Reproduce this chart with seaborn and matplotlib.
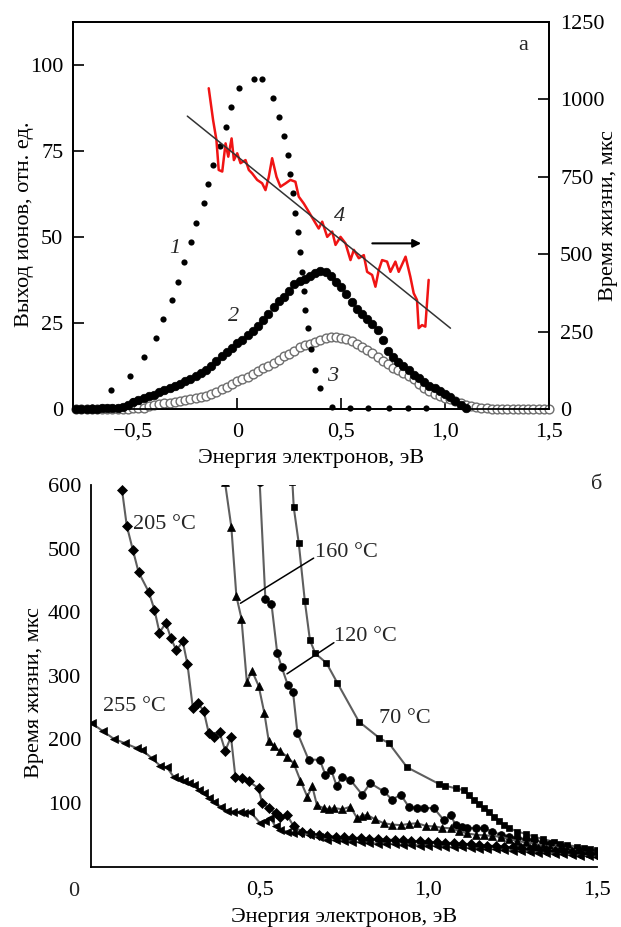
import matplotlib
matplotlib.use("Agg")
import matplotlib.pyplot as plt
import seaborn as sns
import pandas as pd

# ---------------- Panel a data ----------------
c1_x = [-0.697, -0.606, -0.516, -0.449, -0.389, -0.359, -0.316, -0.285, -0.257, -0.224,
        -0.200, -0.160, -0.139, -0.115, -0.083, -0.053, -0.029, 0.011, 0.083, 0.120,
        0.173, 0.203, 0.224, 0.242, 0.256, 0.267, 0.280, 0.291, 0.304, 0.314,
        0.320, 0.328, 0.339, 0.356, 0.373, 0.400, 0.457, 0.545, 0.630, 0.730, 0.820, 0.910]
c1_y = [0.7, 5.5, 9.7, 15.2, 20.5, 26.2, 31.7, 37.0, 42.8, 48.5,
        54.2, 59.8, 65.3, 70.9, 76.5, 82.1, 87.7, 93.2, 95.8, 95.8,
        90.5, 85.0, 79.4, 73.8, 68.2, 62.7, 56.9, 51.5, 45.7, 39.9,
        34.4, 28.8, 23.5, 17.4, 11.3, 6.0, 0.7, 0.2, 0.2, 0.2, 0.2, 0.2]

c2_x = [-0.775, -0.75, -0.725, -0.70, -0.675, -0.65, -0.625, -0.60, -0.575,
        -0.55, -0.525, -0.50, -0.475, -0.45, -0.425, -0.40, -0.375, -0.35, -0.325,
        -0.30, -0.275, -0.25, -0.225, -0.20, -0.175, -0.15, -0.125, -0.10, -0.075,
        -0.05, -0.025, 0.0, 0.025, 0.05, 0.075, 0.10, 0.125, 0.15, 0.175,
        0.20, 0.225, 0.25, 0.275, 0.30, 0.325, 0.35, 0.375, 0.40, 0.425,
        0.45, 0.475, 0.50, 0.525, 0.55, 0.575, 0.60, 0.625, 0.65, 0.675,
        0.70, 0.725, 0.75, 0.775, 0.80, 0.825, 0.85, 0.875, 0.90, 0.925,
        0.95, 0.975, 1.00, 1.025, 1.05, 1.075, 1.10]
c2_y = [0.1, 0.1, 0.1, 0.1, 0.1, 0.2, 0.2, 0.3, 0.4,
        0.5, 1.2, 2.0, 2.6, 3.1, 3.7, 4.2, 4.9, 5.6, 6.1,
        6.7, 7.3, 8.0, 8.8, 9.6, 10.4, 11.4, 12.6, 14.0, 15.3,
        16.5, 17.8, 19.1, 20.2, 21.4, 22.7, 24.1, 25.8, 27.6, 29.6,
        31.3, 32.7, 34.3, 36.2, 37.3, 37.9, 38.8, 39.6, 40.0, 39.7,
        38.6, 37.0, 35.4, 33.4, 31.2, 29.0, 27.6, 26.3, 24.8, 22.9,
        20.0, 16.8, 15.2, 13.8, 12.4, 11.2, 10.0, 8.9, 7.8, 6.8,
        6.0, 5.2, 4.4, 3.4, 2.3, 1.2, 0.3]

c3_x = [-0.775, -0.75, -0.725, -0.70, -0.675, -0.65, -0.625, -0.60, -0.575, -0.55,
        -0.525, -0.50, -0.475, -0.45, -0.425, -0.40, -0.375, -0.35, -0.325, -0.30,
        -0.275, -0.25, -0.225, -0.20, -0.175, -0.15, -0.125, -0.10, -0.075, -0.05,
        -0.025, 0.0, 0.025, 0.05, 0.075, 0.10, 0.125, 0.15, 0.175, 0.20,
        0.225, 0.25, 0.275, 0.30, 0.325, 0.35, 0.375, 0.40, 0.425, 0.45,
        0.475, 0.50, 0.525, 0.55, 0.575, 0.60, 0.625, 0.65, 0.675, 0.70,
        0.725, 0.75, 0.775, 0.80, 0.825, 0.85, 0.875, 0.90, 0.925, 0.95,
        0.975, 1.00, 1.025, 1.05, 1.075, 1.10, 1.125, 1.15, 1.175, 1.20,
        1.225, 1.25, 1.275, 1.30, 1.325, 1.35, 1.375, 1.40, 1.425, 1.45, 1.475, 1.50]
c3_y = [0.1, 0.1, 0.1, 0.1, 0.1, 0.1, 0.1, 0.1, 0.1, 0.1,
        0.1, 0.2, 0.3, 0.4, 0.8, 1.1, 1.4, 1.6, 1.8, 2.0,
        2.3, 2.6, 2.9, 3.1, 3.4, 3.8, 4.3, 5.0, 5.8, 6.5,
        7.3, 8.0, 8.7, 9.4, 10.2, 11.0, 11.8, 12.5, 13.4, 14.3,
        15.3, 16.0, 17.0, 17.9, 18.5, 18.9, 19.5, 20.0, 20.6, 21.0,
        21.0, 20.7, 20.3, 19.7, 18.8, 17.9, 17.1, 16.2, 15.1, 14.0,
        13.0, 12.0, 11.2, 10.4, 9.6, 8.6, 7.4, 6.2, 5.1, 4.4,
        3.8, 3.3, 2.8, 2.3, 1.8, 1.3, 0.9, 0.6, 0.4, 0.2,
        0.1, 0.1, 0.1, 0.1, 0.1, 0.1, 0.1, 0.1, 0.1, 0.1, 0.1, 0.1]

red_x = [-0.137, -0.116, -0.100, -0.089, -0.072, -0.056, -0.043, -0.027, -0.016, 0.000,
         0.016, 0.040, 0.056, 0.072, 0.096, 0.120, 0.136, 0.152, 0.168, 0.189,
         0.208, 0.233, 0.256, 0.280, 0.296, 0.320, 0.330, 0.368, 0.392, 0.409,
         0.433, 0.457, 0.473, 0.497, 0.521, 0.545, 0.561, 0.585, 0.609, 0.625,
         0.649, 0.665, 0.681, 0.697, 0.721, 0.737, 0.761, 0.777, 0.810, 0.833,
         0.849, 0.865, 0.873, 0.889, 0.905, 0.921]
red_y = [1036, 933, 869, 772, 767, 858, 815, 874, 804, 826,
         794, 804, 772, 761, 740, 729, 707, 750, 810, 750,
         718, 729, 740, 734, 686, 664, 653, 610, 583, 605,
         556, 573, 530, 556, 535, 481, 514, 487, 497, 443,
         433, 395, 449, 481, 476, 443, 476, 443, 492, 427,
         374, 352, 261, 271, 266, 417]

fit_x = [-0.24, 1.026]
fit_y = [946, 261]

a_xticks = [-0.5, 0.0, 0.5, 1.0, 1.5]
a_xticklabels = ["\u22120,5", "0", "0,5", "1,0", "1,5"]
a_yticks = [0, 25, 50, 75, 100]
a_y2ticks = [0, 250, 500, 750, 1000, 1250]

# ---------------- Panel b data ----------------
t205_x = [0.092, 0.106, 0.124, 0.141, 0.171, 0.188, 0.203, 0.222, 0.237, 0.253,
          0.272, 0.286, 0.302, 0.316, 0.334, 0.349, 0.366, 0.381, 0.398, 0.415,
          0.428, 0.448, 0.467, 0.497, 0.507, 0.527, 0.547, 0.561, 0.581, 0.601,
          0.625, 0.65, 0.675, 0.70, 0.725, 0.75, 0.775, 0.80, 0.825, 0.85,
          0.875, 0.90, 0.925, 0.95, 0.975, 1.00, 1.025, 1.05, 1.075, 1.10,
          1.125, 1.15, 1.175, 1.20, 1.225, 1.25, 1.275, 1.30, 1.325, 1.35,
          1.375, 1.40, 1.425, 1.45, 1.475, 1.50]
t205_y = [592, 536, 498, 463, 432, 404, 368, 383, 359, 340,
          354, 318, 249, 257, 245, 210, 204, 211, 182, 204,
          141, 139, 134, 123, 100, 92, 84, 78, 81, 63,
          55, 52, 50, 48, 47, 46, 45, 45, 44, 43,
          42, 42, 41, 40, 40, 39, 38, 37, 37, 36,
          35, 34, 33, 32, 31, 30, 29, 28, 27, 26,
          25, 24, 23, 22, 21, 20]

t255_x = [0.003, 0.035, 0.067, 0.100, 0.136, 0.150, 0.181, 0.206, 0.225, 0.245,
          0.260, 0.275, 0.290, 0.304, 0.320, 0.334, 0.350, 0.364, 0.385, 0.403,
          0.420, 0.443, 0.455, 0.472, 0.502, 0.517, 0.532, 0.547, 0.561, 0.580,
          0.600, 0.621, 0.65, 0.675, 0.70, 0.725, 0.75, 0.775, 0.80, 0.825,
          0.85, 0.875, 0.90, 0.925, 0.95, 0.975, 1.00, 1.025, 1.05, 1.075,
          1.10, 1.125, 1.15, 1.175, 1.20, 1.225, 1.25, 1.275, 1.30, 1.325,
          1.35, 1.375, 1.40, 1.425, 1.45, 1.475, 1.50]
t255_y = [225, 213, 201, 194, 186, 184, 170, 158, 156, 141,
          138, 134, 131, 128, 121, 115, 108, 102, 94, 88,
          86, 86, 84, 86, 68, 72, 76, 63, 57, 55,
          53, 52, 49, 46, 42, 41, 40, 39, 38, 37,
          36, 36, 35, 34, 34, 33, 33, 32, 31, 30,
          30, 29, 28, 27, 27, 26, 25, 24, 23, 22,
          21, 20, 19, 18, 17, 16, 15]

t160_x = [0.397, 0.416, 0.431, 0.446, 0.462, 0.477, 0.497, 0.514, 0.527, 0.542,
          0.561, 0.581, 0.601, 0.621, 0.641, 0.656, 0.670, 0.690, 0.705, 0.720,
          0.745, 0.769, 0.789, 0.804, 0.819, 0.843, 0.868, 0.893, 0.918, 0.942,
          0.967, 0.992, 1.016, 1.041, 1.066, 1.090, 1.115, 1.140, 1.165, 1.190,
          1.214, 1.240, 1.264, 1.290, 1.313, 1.340, 1.362, 1.390, 1.412, 1.440,
          1.460, 1.480, 1.500]
t160_y = [605, 534, 425, 390, 290, 308, 284, 241, 197, 189,
          181, 173, 162, 135, 110, 126, 96, 92, 90, 92,
          90, 94, 76, 80, 81, 74, 68, 66, 65, 67,
          68, 64, 63, 61, 60, 56, 52, 50, 49, 48,
          47, 43, 40, 38, 36, 33, 31, 29, 28, 25,
          23, 22, 21]

t120_x = [0.500, 0.517, 0.535, 0.552, 0.565, 0.583, 0.599, 0.612, 0.645, 0.678,
          0.695, 0.712, 0.728, 0.745, 0.769, 0.804, 0.828, 0.868, 0.893, 0.918,
          0.942, 0.967, 0.987, 1.016, 1.046, 1.066, 1.081, 1.100, 1.115, 1.140,
          1.165, 1.190, 1.214, 1.240, 1.264, 1.290, 1.313, 1.340, 1.362, 1.390,
          1.412, 1.440, 1.460, 1.480, 1.500]
t120_y = [605, 420, 413, 336, 314, 286, 274, 210, 168, 168,
          144, 152, 127, 141, 136, 113, 131, 118, 105, 113,
          94, 92, 92, 92, 73, 81, 65, 62, 60, 61,
          60, 55, 50, 47, 45, 43, 42, 38, 35, 32,
          31, 27, 25, 23, 21]

t70_x = [0.597, 0.601, 0.616, 0.634, 0.649, 0.665, 0.698, 0.730, 0.794, 0.855,
         0.883, 0.937, 1.031, 1.050, 1.081, 1.105, 1.120, 1.135, 1.150, 1.165,
         1.180, 1.194, 1.210, 1.224, 1.240, 1.264, 1.290, 1.313, 1.340, 1.372,
         1.390, 1.412, 1.440, 1.461, 1.480, 1.500]
t70_y = [605, 565, 508, 417, 356, 335, 320, 289, 228, 202,
         194, 156, 130, 127, 123, 120, 112, 105, 98, 92,
         85, 78, 72, 65, 60, 55, 51, 47, 43, 39,
         36, 34, 31, 29, 27, 26]

b_xticks = [0.5, 1.0, 1.5]
b_xticklabels = ["0,5", "1,0", "1,5"]
b_yticks = [100, 200, 300, 400, 500, 600]

# ---------------- Style ----------------
sns.set_theme(style="white")
plt.rcParams['font.family'] = ['Liberation Serif', 'DejaVu Serif']
plt.rcParams['axes.edgecolor'] = 'black'
plt.rcParams['axes.linewidth'] = 1.3
FS = 16

fig = plt.figure(figsize=(6.21, 9.27), dpi=100)
fig.patch.set_facecolor('white')

# ================= Panel a =================
ax = fig.add_axes([73/621, 1-409/927, 476/621, 387/927])
ax2 = ax.twinx()

sns.scatterplot(x=c3_x, y=c3_y, ax=ax, s=40, color='white', edgecolor='#6e6e6e',
                linewidth=1.0, zorder=3, clip_on=False)
sns.scatterplot(x=c2_x, y=c2_y, ax=ax, s=38, color='black', edgecolor='black',
                linewidth=0.5, zorder=4, clip_on=False)
sns.scatterplot(x=c1_x, y=c1_y, ax=ax, s=20, color='black', edgecolor='black',
                linewidth=0, zorder=5, clip_on=False)

sns.lineplot(x=red_x, y=red_y, ax=ax2, color='#f01414', lw=1.8, sort=False,
             estimator=None)
sns.lineplot(x=fit_x, y=fit_y, ax=ax2, color='#333333', lw=1.1, sort=False,
             estimator=None)
ax2.annotate('', xy=(0.885, 535), xytext=(0.65, 535), xycoords='data',
             arrowprops=dict(arrowstyle='-|>', color='black', lw=1.5,
                             mutation_scale=12, shrinkA=0, shrinkB=0))

ax.set_xlim(-0.79, 1.5)
ax.set_ylim(0, 112.5)
ax2.set_ylim(0, 1250)

ax.set_xticks(a_xticks)
ax.set_xticklabels(a_xticklabels)
ax.set_yticks(a_yticks)
ax.set_yticklabels([str(t) for t in a_yticks])
ax2.set_yticks(a_y2ticks)
ax2.set_yticklabels([str(t) for t in a_y2ticks])

ax.tick_params(axis='x', direction='in', length=8, width=1.2, labelsize=FS, pad=10,
               bottom=True, top=False, colors='black')
ax.tick_params(axis='y', direction='in', length=8, width=1.2, labelsize=FS, pad=7,
               left=True, right=False, colors='black')
ax2.tick_params(axis='y', direction='in', length=8, width=1.2, labelsize=FS, pad=8,
                right=True, left=False, colors='black')
for a in (ax, ax2):
    for s in a.spines.values():
        s.set_color('black')
        s.set_linewidth(1.3)

ax.set_xlabel("Энергия электронов, эВ", fontsize=FS, color='black')
ax.xaxis.set_label_coords(0.5, -0.103)
ax.set_ylabel("Выход ионов, отн. ед.", fontsize=FS, color='black')
ax.yaxis.set_label_coords(-0.082, 0.478)
ax2.set_ylabel("Время жизни, мкс", fontsize=FS, color='black')
ax2.yaxis.set_label_coords(1.104, 0.5)

ax.text(-0.30, 46.7, "1", fontsize=FS, style='italic', ha='center', va='center')
ax.text(-0.016, 26.8, "2", fontsize=FS, style='italic', ha='center', va='center')
ax.text(0.457, 9.4, "3", fontsize=FS, style='italic', ha='center', va='center')
ax.text(0.493, 55.9, "4", fontsize=FS, style='italic', ha='center', va='center')
ax.text(0.945, 0.938, "а", transform=ax.transAxes, fontsize=FS, ha='center', va='center')

# ================= Panel b =================
bx = fig.add_axes([91/621, 1-866.5/927, 506/621, 381.5/927])

series = [(t70_x, t70_y, 's'), (t120_x, t120_y, 'o'), (t160_x, t160_y, '^'),
          (t205_x, t205_y, 'D'), (t255_x, t255_y, '<')]
msize = {'s': 4.8, 'o': 5.6, '^': 5.8, 'D': 4.8, '<': 5.8}
for xs, ys, m in series:
    sns.lineplot(x=xs, y=ys, ax=bx, color='#5e5e5e', lw=1.5, sort=False, estimator=None,
                 marker=m, markersize=msize[m], markerfacecolor='black',
                 markeredgecolor='black', markeredgewidth=0.5)

bx.set_xlim(0, 1.5)
bx.set_ylim(0, 600)
bx.set_xticks(b_xticks)
bx.set_xticklabels(b_xticklabels)
bx.set_yticks(b_yticks)
bx.set_yticklabels([str(t) for t in b_yticks])
bx.tick_params(axis='x', direction='in', length=8, width=1.2, labelsize=FS, pad=10,
               colors='black')
bx.tick_params(axis='y', direction='in', length=8, width=1.2, labelsize=FS, pad=7,
               colors='black')
bx.spines['top'].set_visible(False)
bx.spines['right'].set_visible(False)
for s in ('left', 'bottom'):
    bx.spines[s].set_color('black')
    bx.spines[s].set_linewidth(1.3)

bx.annotate("0", xy=(0, 0), xycoords='data', xytext=(-17, -25),
            textcoords='offset pixels', fontsize=FS, ha='center', va='center',
            annotation_clip=False)

bx.set_xlabel("Энергия электронов, эВ", fontsize=FS, color='black')
bx.xaxis.set_label_coords(0.5, -0.108)
bx.set_ylabel("Время жизни, мкс", fontsize=FS, color='black')
bx.yaxis.set_label_coords(-0.093, 0.457)

bx.text(0.124, 538, "205 °C", fontsize=FS, ha='left', va='center')
bx.text(0.037, 252, "255 °C", fontsize=FS, ha='left', va='center')
bx.text(0.853, 232, "70 °C", fontsize=FS, ha='left', va='center')
bx.text(0.665, 494, "160 °C", fontsize=FS, ha='left', va='center')
bx.text(0.720, 361, "120 °C", fontsize=FS, ha='left', va='center')
bx.annotate("", xy=(0.443, 414), xytext=(0.66, 485),
            arrowprops=dict(arrowstyle='-', color='black', lw=1.1, shrinkA=0, shrinkB=0))
bx.annotate("", xy=(0.581, 303), xytext=(0.72, 352),
            arrowprops=dict(arrowstyle='-', color='black', lw=1.1, shrinkA=0, shrinkB=0))
bx.text(1.0, 1.0, "б", transform=bx.transAxes, fontsize=FS, ha='center', va='center')

fig.savefig("out.png", dpi=100, facecolor='white')
